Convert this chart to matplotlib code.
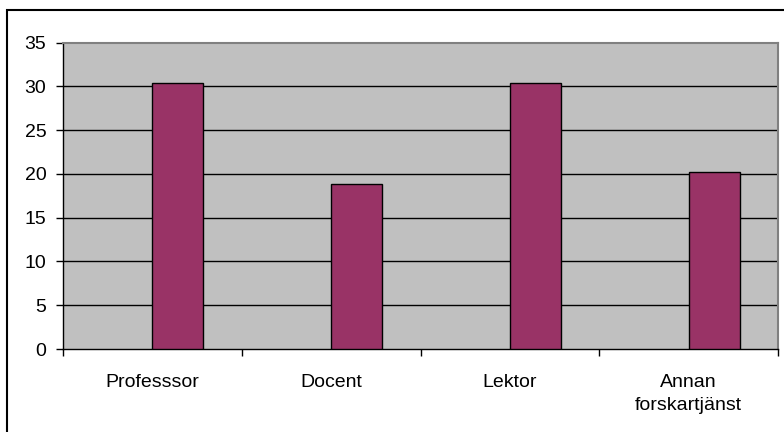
import numpy as np
import matplotlib.pyplot as plt
from matplotlib.patches import Rectangle

# staff categories and their shares
categories = ["Professsor", "Docent", "Lektor", "Annan\nforskartjänst"]
values = [30.4, 18.8, 30.4, 20.2]
yticks = [0, 5, 10, 15, 20, 25, 30, 35]

plt.rcParams['font.family'] = ['Liberation Sans', 'DejaVu Sans']

fig = plt.figure(figsize=(7.84, 4.32), dpi=100)
ax = fig.add_axes([63/784, 1 - 349/432, 715/784, (349 - 42.5)/432])

# frame around the whole chart area (right and bottom edges fall off the canvas)
fig.patches.append(Rectangle((7/784, -0.1), 1.2, 1 - 10/432 + 0.1,
                             transform=fig.transFigure, fill=False,
                             edgecolor='black', linewidth=1.5, zorder=10))

x = np.arange(len(categories))
width = 1 / 3.5
ax.set_facecolor('#C0C0C0')
ax.bar(x, values, width=width, align='edge', color='#993366',
       edgecolor='black', linewidth=1.0, zorder=3)

ax.set_xlim(-0.5, len(categories) - 0.5)
ax.set_ylim(0, 35)
ax.set_yticks(yticks)
for t in yticks[1:-1]:
    ax.axhline(t, color='black', linewidth=1.0, zorder=1)

ax.set_xticks(x)
ax.set_xticklabels(categories, fontsize=14, linespacing=1.5)
ax.set_xticks(np.arange(len(categories) + 1) - 0.5, minor=True)
ax.tick_params(axis='x', which='major', length=0, pad=18)
ax.tick_params(axis='x', which='minor', length=5, width=1.0, direction='out')
ax.tick_params(axis='y', length=5, width=1.0, direction='out', pad=7,
               labelsize=14)

for side in ['top', 'right']:
    ax.spines[side].set_color('#808080')
    ax.spines[side].set_linewidth(1.5)
for side in ['left', 'bottom']:
    ax.spines[side].set_color('black')
    ax.spines[side].set_linewidth(1.0)

fig.savefig('out.png', dpi=100)
